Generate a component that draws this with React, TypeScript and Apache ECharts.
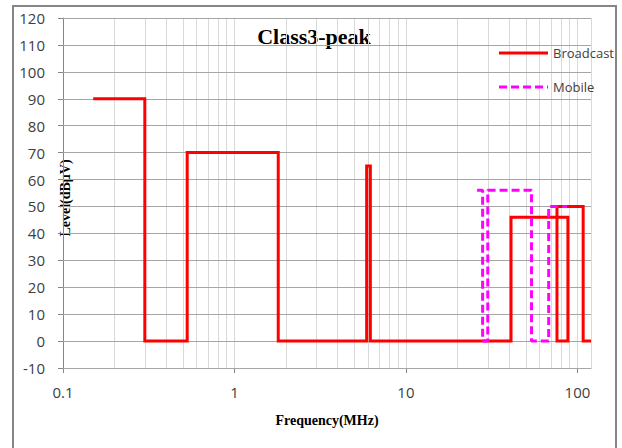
import React, { useEffect, useRef } from "react";
import * as echarts from "echarts";

const broadcastFreq = [0.15, 0.3, 0.3, 0.53, 0.53, 1.8, 1.8, 5.9, 5.9, 6.2, 6.2, 41, 41, 88, 88, 76, 76, 108, 108, 120];
const broadcastLevel = [90, 90, 0, 0, 70, 70, 0, 0, 65, 65, 0, 0, 46, 46, 0, 0, 50, 50, 0, 0];
const mobileFreq = [26, 28, 28, 30, 30, 54, 54, 68, 68, 87];
const mobileLevel = [56, 56, 0, 0, 56, 56, 0, 0, 50, 50];

const xTickValues = [0.1, 1, 10, 100];
const xGridValues = [
  0.2, 0.3, 0.4, 0.5, 0.6, 0.7, 0.8, 0.9, 1,
  2, 3, 4, 5, 6, 7, 8, 9, 10,
  20, 30, 40, 50, 60, 70, 80, 90, 100, 120,
];
const yGridValues = [-10, 0, 10, 20, 30, 40, 50, 60, 70, 80, 90, 100, 110, 120];

const seriesNames = ["Broadcast", "Mobile"];
const seriesColors = ["#ff0000", "#ff00ff"];
const titleText = "Class3-peak";
const xAxisTitle = "Frequency(MHz)";
const yAxisTitle = "Level(dBμV)";

const zip = (a: number[], b: number[]) => a.map((v, i) => [v, b[i]]);

export default function App() {
  const ref = useRef<HTMLDivElement>(null);
  useEffect(() => {
    if (!ref.current) return;
    const chart = echarts.init(ref.current, undefined, { renderer: "svg" });
    const gridLines: any[] = [
      ...xGridValues.map((v) => ({ xAxis: v, lineStyle: { color: "#d9d9d9", width: 1, type: "solid" } })),
      ...yGridValues.map((v) => ({ yAxis: v, lineStyle: { color: "#a6a6a6", width: 1, type: "solid" } })),
    ];
    const legendItems: any[] = [];
    seriesNames.forEach((name, i) => {
      const y = 53 + i * 34;
      legendItems.push({
        type: "line",
        shape: { x1: 499, y1: y, x2: 548, y2: y },
        style: {
          stroke: seriesColors[i],
          lineWidth: 3,
          lineDash: i === 1 ? [8, 4] : null,
        },
        silent: true,
        z: 10,
      });
      legendItems.push({
        type: "text",
        x: 553,
        y: y,
        style: {
          text: name,
          fontFamily: "Open Sans",
          fontSize: 13,
          fill: "#404040",
          textAlign: "left",
          textVerticalAlign: "middle",
        },
        z: 10,
      });
    });
    chart.setOption({
      animation: false,
      backgroundColor: "#ffffff",
      grid: { left: 63, top: 18, right: 31, bottom: 80, containLabel: false },
      xAxis: {
        type: "log",
        logBase: 10,
        min: 0.1,
        max: 120,
        axisLine: { show: true, onZero: false, lineStyle: { color: "#868686", width: 1 } },
        axisTick: { show: true, length: 5, lineStyle: { color: "#868686" }, customValues: xTickValues },
        axisLabel: {
          customValues: xTickValues,
          margin: 16,
          fontFamily: "Open Sans",
          fontSize: 15,
          color: "#404040",
          formatter: (v: number) => String(v),
        },
        splitLine: { show: false },
      },
      yAxis: {
        type: "value",
        min: -10,
        max: 120,
        interval: 10,
        axisLine: { show: true, onZero: false, lineStyle: { color: "#868686", width: 1 } },
        axisTick: { show: true, length: 5, lineStyle: { color: "#868686" } },
        axisLabel: {
          margin: 18,
          fontFamily: "Open Sans",
          fontSize: 15,
          color: "#404040",
        },
        splitLine: { show: false },
      },
      series: [
        {
          type: "line",
          data: [],
          z: 1,
          silent: true,
          markLine: {
            z: 1,
            silent: true,
            symbol: "none",
            label: { show: false },
            emphasis: { disabled: true },
            data: gridLines,
          },
        },
        {
          name: seriesNames[0],
          type: "line",
          data: zip(broadcastFreq, broadcastLevel),
          showSymbol: false,
          symbol: "none",
          z: 3,
          lineStyle: { color: seriesColors[0], width: 3, join: "miter" },
          itemStyle: { color: seriesColors[0] },
        },
        {
          name: seriesNames[1],
          type: "line",
          data: zip(mobileFreq, mobileLevel),
          showSymbol: false,
          symbol: "none",
          z: 4,
          lineStyle: { color: seriesColors[1], width: 3, type: [8, 4] },
          itemStyle: { color: seriesColors[1] },
        },
      ],
      graphic: [
        {
          type: "rect",
          shape: { x: 13, y: 6, width: 603, height: 460 },
          style: { fill: "none", stroke: "#868686", lineWidth: 2 },
          silent: true,
          z: 0,
        },
        {
          type: "text",
          x: 314,
          y: 36,
          style: {
            text: titleText,
            fontFamily: "Liberation Serif",
            fontWeight: "bold",
            fontSize: 22,
            fill: "#000000",
            textAlign: "center",
            textVerticalAlign: "middle",
          },
        },
        {
          type: "text",
          x: 327,
          y: 420,
          style: {
            text: xAxisTitle,
            fontFamily: "Liberation Serif",
            fontWeight: "bold",
            fontSize: 14,
            fill: "#000000",
            textAlign: "center",
            textVerticalAlign: "middle",
          },
        },
        {
          type: "text",
          x: 65,
          y: 198,
          rotation: Math.PI / 2,
          style: {
            text: yAxisTitle,
            fontFamily: "Liberation Serif",
            fontWeight: "bold",
            fontSize: 14,
            fill: "#000000",
            textAlign: "center",
            textVerticalAlign: "middle",
          },
        },
        ...legendItems,
      ],
    });
    return () => chart.dispose();
  }, []);
  return (
    <div
      ref={ref}
      style={{ position: "fixed", left: 0, top: 0, width: 622, height: 448, background: "#fff" }}
    />
  );
}
